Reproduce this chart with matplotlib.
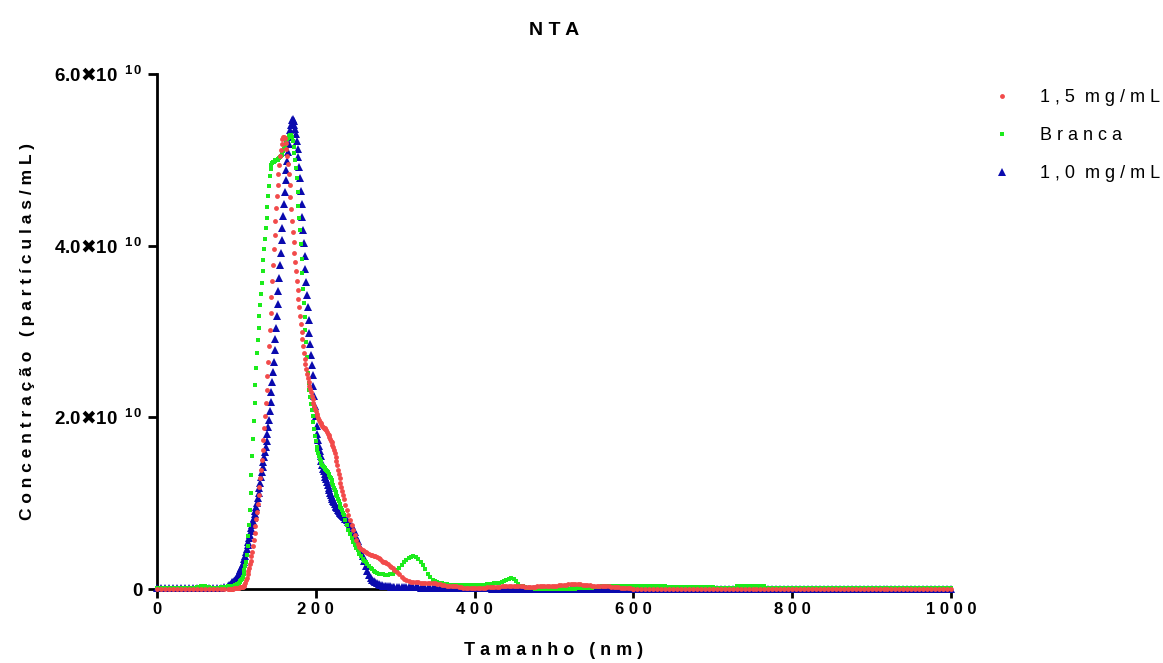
import numpy as np
import matplotlib
matplotlib.use("Agg")
import matplotlib.pyplot as plt
from matplotlib.ticker import FuncFormatter

plt.rcParams['font.family'] = ['Liberation Sans', 'DejaVu Sans']
plt.rcParams['mathtext.fontset'] = 'custom'
plt.rcParams['mathtext.rm'] = 'Liberation Sans:bold'
plt.rcParams['mathtext.bf'] = 'Liberation Sans:bold'
plt.rcParams['mathtext.it'] = 'Liberation Sans:bold'
plt.rcParams['mathtext.sf'] = 'DejaVu Sans:bold'
plt.rcParams['mathtext.default'] = 'rm'

# Size bins (nm) for each stretch of the NTA distribution
size_low = np.arange(0, 91, 5)
size_peak = np.arange(91, 236, 1)
size_shoulder = np.arange(237, 300, 2)
size_tail = np.arange(302, 600, 3)
size_far = np.arange(600, 1001, 5)

# Concentrations in units of 1e10 particles/mL
red_low = [0, 0, 0, 0, 0, 0, 0, 0, 0, 0, 0, 0, 0, 0, 0, 0, 0, 0, 0]
red_peak = [
    0.00, 0.00, 0.00, 0.00, 0.00, 0.00, 0.01, 0.01, 0.01, 0.01,
    0.01, 0.01, 0.01, 0.02, 0.02, 0.02, 0.02, 0.02, 0.03, 0.05,
    0.07, 0.10, 0.13, 0.17, 0.21, 0.25, 0.29, 0.33, 0.38, 0.43,
    0.50, 0.57, 0.65, 0.73, 0.81, 0.90, 0.99, 1.09, 1.19, 1.29,
    1.39, 1.50, 1.62, 1.74, 1.88, 2.02, 2.17, 2.32, 2.48, 2.65,
    2.83, 3.02, 3.21, 3.40, 3.59, 3.78, 3.96, 4.13, 4.29, 4.44,
    4.58, 4.71, 4.83, 4.94, 5.04, 5.12, 5.19, 5.24, 5.27, 5.27,
    5.25, 5.20, 5.13, 5.05, 4.95, 4.84, 4.71, 4.57, 4.43, 4.29,
    4.16, 4.04, 3.92, 3.81, 3.70, 3.59, 3.48, 3.38, 3.28, 3.18,
    3.09, 3.00, 2.91, 2.83, 2.75, 2.68, 2.62, 2.56, 2.51, 2.46,
    2.41, 2.37, 2.33, 2.29, 2.25, 2.21, 2.17, 2.13, 2.10, 2.07,
    2.04, 2.01, 1.99, 1.97, 1.95, 1.93, 1.92, 1.90, 1.89, 1.88,
    1.87, 1.86, 1.85, 1.83, 1.81, 1.79, 1.77, 1.75, 1.73, 1.71,
    1.68, 1.65, 1.62, 1.58, 1.54, 1.49, 1.44, 1.39, 1.34, 1.29,
    1.24, 1.19, 1.14, 1.09, 1.05,
]
red_shoulder = [
    0.98, 0.92, 0.86, 0.80, 0.74, 0.69, 0.63, 0.57, 0.53, 0.49,
    0.47, 0.45, 0.44, 0.43, 0.42, 0.41, 0.40, 0.40, 0.39, 0.38,
    0.37, 0.36, 0.35, 0.33, 0.32, 0.31, 0.30, 0.29, 0.27, 0.26,
    0.24, 0.22,
]
red_tail = [
    0.20, 0.17, 0.14, 0.12, 0.10, 0.09, 0.08, 0.08, 0.08, 0.08,
    0.07, 0.07, 0.07, 0.07, 0.07, 0.07, 0.07, 0.06, 0.06, 0.05,
    0.05, 0.04, 0.04, 0.04, 0.03, 0.03, 0.02, 0.02, 0.01, 0.01,
    0.01, 0.01, 0.01, 0.01, 0.01, 0.01, 0.01, 0.01, 0.02, 0.02,
    0.02, 0.02, 0.02, 0.02, 0.03, 0.03, 0.03, 0.03, 0.03, 0.03,
    0.03, 0.03, 0.03, 0.03, 0.02, 0.02, 0.02, 0.02, 0.02, 0.03,
    0.03, 0.03, 0.03, 0.03, 0.03, 0.04, 0.04, 0.04, 0.05, 0.05,
    0.05, 0.05, 0.06, 0.06, 0.06, 0.06, 0.06, 0.06, 0.05, 0.05,
    0.05, 0.05, 0.04, 0.04, 0.04, 0.04, 0.03, 0.03, 0.03, 0.03,
    0.02, 0.02, 0.02, 0.02, 0.01, 0.01, 0.01, 0.01, 0.01, 0.00,
]
red_far = [
    0, 0, 0, 0, 0, 0, 0, 0, 0, 0,
    0, 0, 0, 0, 0, 0, 0, 0, 0, 0,
    0, 0, 0, 0, 0, 0, 0, 0, 0, 0,
    0, 0, 0, 0, 0, 0, 0, 0, 0, 0,
    0, 0, 0, 0, 0, 0, 0, 0, 0, 0,
    0, 0, 0, 0, 0, 0, 0, 0, 0, 0,
    0, 0, 0, 0, 0, 0, 0, 0, 0, 0,
    0, 0, 0, 0, 0, 0, 0, 0, 0, 0,
    0,
]

green_low = [0.01, 0.01, 0.01, 0.01, 0.01, 0.01, 0.01, 0.01, 0.01, 0.01,
             0.02, 0.03, 0.03, 0.02, 0.01, 0.01, 0.02, 0.02, 0.03]
green_peak = [
    0.03, 0.03, 0.03, 0.035, 0.04, 0.04, 0.04, 0.05, 0.05, 0.05,
    0.06, 0.06, 0.07, 0.08, 0.09, 0.10, 0.12, 0.14, 0.17, 0.22,
    0.27, 0.32, 0.40, 0.50, 0.62, 0.75, 0.92, 1.12, 1.33, 1.55,
    1.75, 1.96, 2.17, 2.38, 2.58, 2.75, 2.90, 3.04, 3.18, 3.31,
    3.44, 3.57, 3.70, 3.83, 3.96, 4.08, 4.20, 4.32, 4.45, 4.58,
    4.70, 4.81, 4.89, 4.94, 4.96, 4.97, 4.98, 4.99, 5.00, 5.00,
    5.00, 5.00, 5.01, 5.02, 5.03, 5.05, 5.06, 5.08, 5.10, 5.13,
    5.16, 5.19, 5.22, 5.24, 5.26, 5.28, 5.29, 5.29, 5.29, 5.27,
    5.22, 5.15, 5.08, 5.00, 4.91, 4.79, 4.62, 4.46, 4.32, 4.18,
    4.02, 3.85, 3.68, 3.50, 3.33, 3.17, 3.02, 2.88, 2.70, 2.52,
    2.40, 2.32, 2.24, 2.16, 2.09, 2.02, 1.94, 1.86, 1.78, 1.72,
    1.66, 1.62, 1.58, 1.55, 1.52, 1.49, 1.47, 1.45, 1.43, 1.42,
    1.41, 1.40, 1.39, 1.37, 1.36, 1.34, 1.33, 1.31, 1.29, 1.27,
    1.24, 1.21, 1.18, 1.15, 1.13, 1.10, 1.08, 1.05, 1.02, 0.99,
    0.96, 0.94, 0.92, 0.89, 0.86,
]
green_shoulder = [
    0.80, 0.74, 0.69, 0.64, 0.60, 0.55, 0.51, 0.48, 0.45, 0.41,
    0.38, 0.35, 0.33, 0.31, 0.29, 0.27, 0.25, 0.23, 0.21, 0.20,
    0.19, 0.18, 0.18, 0.17, 0.17, 0.16, 0.16, 0.16, 0.17, 0.17,
    0.18, 0.20,
]
green_tail = [
    0.22, 0.25, 0.28, 0.31, 0.34, 0.36, 0.37, 0.38, 0.37, 0.35,
    0.32, 0.28, 0.23, 0.18, 0.14, 0.11, 0.09, 0.08, 0.07, 0.065,
    0.06, 0.055, 0.05, 0.05, 0.05, 0.05, 0.05, 0.05, 0.05, 0.05,
    0.05, 0.05, 0.05, 0.05, 0.05, 0.05, 0.05, 0.05, 0.055, 0.06,
    0.06, 0.065, 0.07, 0.07, 0.08, 0.09, 0.10, 0.12, 0.13, 0.12,
    0.09, 0.06, 0.04, 0.03, 0.02, 0.01, 0.01, 0.01, 0.00, 0.00,
    0.00, 0.00, 0.00, 0.00, 0.00, 0.00, 0.00, 0.00, 0.00, 0.00,
    0.00, 0.00, 0.00, 0.00, 0.00, 0.00, 0.01, 0.01, 0.01, 0.01,
    0.01, 0.01, 0.01, 0.02, 0.02, 0.02, 0.03, 0.03, 0.03, 0.03,
    0.03, 0.03, 0.035, 0.035, 0.035, 0.035, 0.035, 0.035, 0.035, 0.035,
]
green_far = [
    0.035, 0.035, 0.035, 0.035, 0.035, 0.035, 0.035, 0.035, 0.035,
    0.02, 0.02, 0.02, 0.02, 0.02, 0.02, 0.02, 0.02, 0.02, 0.02, 0.02, 0.02,
    0.01, 0.01, 0.01, 0.01, 0.01,
    0.03, 0.03, 0.03, 0.03, 0.03, 0.03, 0.03, 0.03,
    0.01, 0.01, 0.01, 0.01, 0.01, 0.01, 0.01, 0.01, 0.01, 0.01,
    0.01, 0.01, 0.01, 0.01, 0.01, 0.01, 0.01, 0.01, 0.01, 0.01,
    0.01, 0.01, 0.01, 0.01, 0.01, 0.01, 0.01, 0.01, 0.01, 0.01,
    0.01, 0.01, 0.01, 0.01, 0.01, 0.01, 0.01, 0.01, 0.01, 0.01,
    0.01, 0.01, 0.01, 0.01, 0.01, 0.01, 0.01,
]

blue_low = [0.01, 0.01, 0.01, 0.01, 0.01, 0.01, 0.01, 0.01, 0.01, 0.01,
            0.01, 0.01, 0.01, 0.01, 0.01, 0.01, 0.01, 0.02, 0.04]
blue_peak = [
    0.05, 0.05, 0.06, 0.07, 0.08, 0.08, 0.09, 0.10, 0.11, 0.12,
    0.14, 0.16, 0.18, 0.20, 0.22, 0.24, 0.26, 0.29, 0.32, 0.35,
    0.39, 0.43, 0.47, 0.51, 0.55, 0.59, 0.63, 0.67, 0.71, 0.75,
    0.79, 0.83, 0.87, 0.91, 0.95, 1.00, 1.06, 1.12, 1.18, 1.24,
    1.30, 1.36, 1.42, 1.48, 1.54, 1.60, 1.66, 1.73, 1.81, 1.89,
    1.97, 2.07, 2.18, 2.29, 2.41, 2.53, 2.65, 2.78, 2.91, 3.04,
    3.18, 3.32, 3.47, 3.62, 3.77, 3.92, 4.07, 4.21, 4.35, 4.49,
    4.63, 4.76, 4.88, 4.99, 5.09, 5.18, 5.27, 5.35, 5.41, 5.46,
    5.48, 5.45, 5.41, 5.36, 5.30, 5.22, 5.13, 5.03, 4.92, 4.79,
    4.64, 4.48, 4.33, 4.18, 4.03, 3.88, 3.73, 3.58, 3.43, 3.28,
    3.13, 2.98, 2.85, 2.73, 2.61, 2.49, 2.37, 2.25, 2.13, 2.01,
    1.90, 1.81, 1.74, 1.67, 1.61, 1.55, 1.49, 1.44, 1.40, 1.37,
    1.34, 1.31, 1.28, 1.25, 1.21, 1.18, 1.15, 1.12, 1.09, 1.07,
    1.05, 1.03, 1.01, 0.99, 0.97, 0.95, 0.94, 0.92, 0.91, 0.90,
    0.89, 0.87, 0.86, 0.85, 0.84,
]
blue_shoulder = [
    0.82, 0.80, 0.78, 0.76, 0.73, 0.70, 0.66, 0.61, 0.56, 0.51,
    0.45, 0.39, 0.33, 0.27, 0.21, 0.16, 0.13, 0.10, 0.09, 0.08,
    0.07, 0.06, 0.05, 0.05, 0.04, 0.04, 0.03, 0.03, 0.03, 0.02,
    0.02, 0.02,
]
blue_tail = [
    0.02, 0.02, 0.02, 0.02, 0.02, 0.02, 0.02, 0.02, 0.02, 0.02,
    0.01, 0.01, 0.01, 0.01, 0.01, 0.01, 0.01, 0.01, 0.01, 0.01,
    0.01, 0.01, 0.01, 0.01, 0.01, 0.01, 0.01, 0.01, 0.01, 0.01,
    0.01, 0.01, 0.01, 0.01, 0.01, 0.01, 0.01, 0.01, 0.01, 0.01,
    0, 0, 0, 0, 0, 0, 0, 0, 0, 0,
    0, 0, 0, 0, 0, 0, 0, 0, 0, 0,
    0, 0, 0, 0, 0, 0, 0, 0, 0, 0,
    0, 0, 0, 0, 0, 0, 0, 0, 0, 0,
    0, 0, 0, 0, 0, 0, 0, 0, 0, 0,
    0, 0, 0, 0, 0, 0, 0, 0, 0, 0,
]
blue_far = [
    0, 0, 0, 0, 0, 0, 0, 0, 0, 0,
    0, 0, 0, 0, 0, 0, 0, 0, 0, 0,
    0, 0, 0, 0, 0, 0, 0, 0, 0, 0,
    0, 0, 0, 0, 0, 0, 0, 0, 0, 0,
    0, 0, 0, 0, 0, 0, 0, 0, 0, 0,
    0, 0, 0, 0, 0, 0, 0, 0, 0, 0,
    0, 0, 0, 0, 0, 0, 0, 0, 0, 0,
    0, 0, 0, 0, 0, 0, 0, 0, 0, 0,
    0,
]

series_labels = ["1 , 5  m g / m L", "B r a n c a", "1 , 0  m g / m L"]
x_ticks = [0, 200, 400, 600, 800, 1000]
y_ticks = [0, 2e10, 4e10, 6e10]

size_nm = np.concatenate([size_low, size_peak, size_shoulder, size_tail, size_far])
scale = 1e10
red = np.concatenate([red_low, red_peak, red_shoulder, red_tail, red_far]) * scale
green = np.concatenate([green_low, green_peak, green_shoulder, green_tail, green_far]) * scale
blue = np.concatenate([blue_low, blue_peak, blue_shoulder, blue_tail, blue_far]) * scale

W, H = 1163, 663
fig = plt.figure(figsize=(W / 100, H / 100), dpi=100)
ax = fig.add_axes([157 / W, 1 - 589 / H, (951 - 157) / W, (589 - 74) / H])

h_blue, = ax.plot(size_nm, blue, linestyle='none', marker='^', ms=5.4,
                  color='#0A0AAE', mew=0, clip_on=False, zorder=3)
h_green, = ax.plot(size_nm, green, linestyle='none', marker='s', ms=3.1,
                   color='#1CEB1C', mew=0, clip_on=False, zorder=4)
h_red, = ax.plot(size_nm, red, linestyle='none', marker='o', ms=3.5,
                 color='#F24A4A', mew=0, clip_on=False, zorder=5)

ax.set_xlim(0, 1000)
ax.set_ylim(0, 6e10)
ax.set_xticks(x_ticks)
ax.set_yticks(y_ticks)


def fmt_x(v, pos):
    return " ".join(str(int(v)))


def fmt_y(v, pos):
    if v == 0:
        return "0"
    return ("$\\mathbf{%.1f}\\mathsf{\u2716}\\mathbf{10}\\;\\,{}^{\\mathbf{1\\,0}}$"
            % (v / 1e10))


ax.xaxis.set_major_formatter(FuncFormatter(fmt_x))
ax.yaxis.set_major_formatter(FuncFormatter(fmt_y))

for side in ("top", "right"):
    ax.spines[side].set_visible(False)
for side in ("left", "bottom"):
    ax.spines[side].set_linewidth(2.0)

ax.tick_params(axis='both', width=2.0, length=6.5, labelsize=12, direction='out')
ax.tick_params(axis='x', pad=3)
ax.tick_params(axis='y', pad=4, labelsize=13.5)
for lab in ax.get_xticklabels() + ax.get_yticklabels():
    lab.set_fontweight('bold')

ax.set_title("N T A", fontsize=14, fontweight='bold', pad=28)
ax.set_xlabel("T a m a n h o   ( n m )", fontsize=13, fontweight='bold', labelpad=18)
ax.set_ylabel("C o n c e n t r a ç ã o   ( p a r t í c u l a s / m L )",
              fontsize=12.5, fontweight='bold', labelpad=14)

ax.legend([h_red, h_green, h_blue], series_labels,
          loc='upper left', bbox_to_anchor=(993 / W, 1 - 89 / H),
          bbox_transform=fig.transFigure, frameon=False, fontsize=13,
          handlelength=1.0, handletextpad=1.6, labelspacing=1.17,
          borderpad=0, borderaxespad=0, numpoints=1)

fig.savefig("out.png", dpi=100)
